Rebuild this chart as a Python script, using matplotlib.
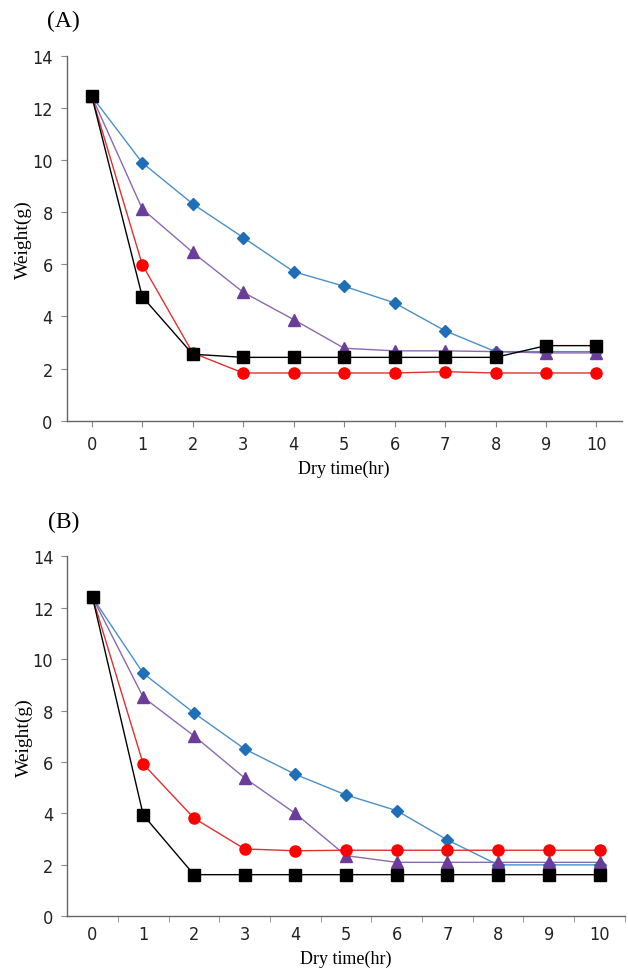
import matplotlib
matplotlib.use("Agg")
import matplotlib.pyplot as plt

# Thời gian sấy (giờ)
hours = [0, 1, 2, 3, 4, 5, 6, 7, 8, 9, 10]

# (A)
a_blue = [12.45, 9.9, 8.32, 7.03, 5.72, 5.16, 4.52, 3.45, 2.65, 2.65, 2.65]
a_purple = [12.45, 8.13, 6.46, 4.93, 3.88, 2.78, 2.68, 2.68, 2.65, 2.6, 2.6]
a_red = [12.45, 5.99, 2.6, 1.83, 1.83, 1.83, 1.83, 1.88, 1.83, 1.83, 1.83]
a_black = [12.45, 4.76, 2.55, 2.43, 2.43, 2.43, 2.43, 2.43, 2.43, 2.88, 2.88]

# (B)
b_blue = [12.4, 9.45, 7.91, 6.51, 5.52, 4.72, 4.11, 2.97, 2.0, 2.0, 2.0]
b_purple = [12.4, 8.52, 7.02, 5.38, 4.0, 2.36, 2.1, 2.1, 2.1, 2.1, 2.1]
b_red = [12.4, 5.92, 3.82, 2.62, 2.55, 2.57, 2.57, 2.57, 2.57, 2.57, 2.57]
b_black = [12.4, 3.94, 1.62, 1.62, 1.62, 1.62, 1.62, 1.62, 1.62, 1.62, 1.62]

yticks = [0, 2, 4, 6, 8, 10, 12, 14]

SERIF = ["Liberation Serif", "DejaVu Serif"]


def tick_font(labels):
    for t in labels:
        t.set_family("DejaVu Sans")
        t.set_stretch("condensed")
        t.set_fontsize(13)
        t.set_color("#222222")


def draw_panel(ax, blue, purple, red, black, label, half_ticks):
    ax.plot(hours, blue, color="#4A90C8", lw=1, marker="D", ms=6,
            mfc="#1F6FB8", mec="#1F6FB8")
    ax.plot(hours, purple, color="#8A6AAE", lw=1, marker="^", ms=8,
            mfc="#6A3D9A", mec="#6A3D9A")
    ax.plot(hours, red, color="#E03030", lw=1, marker="o", ms=8,
            mfc="#FF0000", mec="#FF0000")
    ax.plot(hours, black, color="black", lw=1, marker="s", ms=8,
            mfc="black", mec="black")

    ax.set_xlim(-0.5, 10.5)
    ax.set_ylim(0, 14)
    ax.set_yticks(yticks)
    ax.set_xticks(hours)
    ax.set_xticklabels([str(h) for h in hours])
    ax.set_yticklabels([str(v) for v in yticks])
    tick_font(ax.get_xticklabels())
    tick_font(ax.get_yticklabels())
    if half_ticks:
        ax.set_xticks([h + 0.5 for h in hours], minor=True)
        ax.tick_params(axis="x", which="major", length=0)
        ax.tick_params(axis="x", which="minor", length=4, color="#888888")
    else:
        ax.tick_params(axis="x", which="major", length=4, color="#888888")
    ax.tick_params(axis="x", pad=6)
    ax.tick_params(axis="y", length=4, color="#888888", pad=6)

    for s in ["top", "right"]:
        ax.spines[s].set_visible(False)
    for s in ["left", "bottom"]:
        ax.spines[s].set_color("#666666")
        ax.spines[s].set_linewidth(1)

    ax.set_xlabel("Dry time(hr)", family=SERIF, fontsize=13, labelpad=5)
    ax.set_ylabel("Weight(g)", family=SERIF, fontsize=14)
    ax.yaxis.set_label_coords(-0.062, 0.5)
    ax.text(-0.035, 1.097, label, transform=ax.transAxes, family=SERIF,
            fontsize=17, ha="left", va="center")


fig = plt.figure(figsize=(6.28, 9.79), dpi=100)
ax1 = fig.add_axes([0.106, 0.5693, 0.884, 0.3725])
ax2 = fig.add_axes([0.107, 0.0630, 0.888, 0.3677])

draw_panel(ax1, a_blue, a_purple, a_red, a_black, "(A)", False)
draw_panel(ax2, b_blue, b_purple, b_red, b_black, "(B)", True)

fig.savefig("out.png", dpi=100)
